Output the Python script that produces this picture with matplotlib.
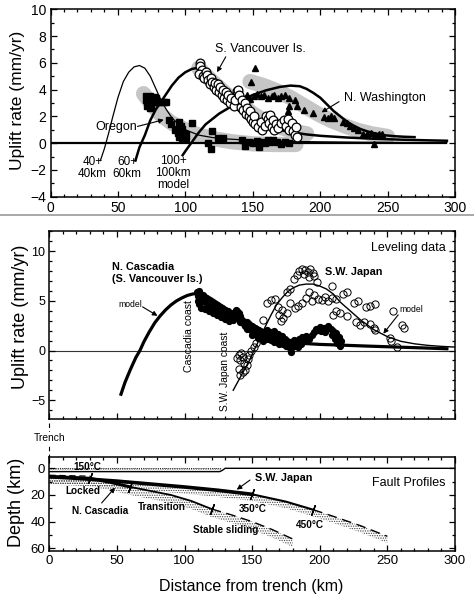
import matplotlib
matplotlib.use('Agg')
import matplotlib.pyplot as plt
from matplotlib.ticker import MultipleLocator
from matplotlib.lines import Line2D

plt.rcParams['font.family'] = ['Liberation Sans', 'DejaVu Sans']
plt.rcParams['hatch.linewidth'] = 0.6

# ================= Panel 1: uplift-rate data and models =================
m40_x = [37, 40, 43, 46, 50, 54, 58, 62, 66, 70, 74, 78, 82, 86, 90, 95, 100, 110, 120, 130, 140, 160, 180, 200, 230, 260, 294]
m40_y = [-1.3, -0.4, 0.7, 1.9, 3.4, 4.6, 5.3, 5.7, 5.8, 5.6, 5.0, 4.1, 3.2, 2.5, 1.9, 1.4, 1.0, 0.6, 0.42, 0.32, 0.26, 0.18, 0.13, 0.1, 0.07, 0.05, 0.03]

m60_x = [63, 66, 70, 74, 78, 82, 86, 90, 95, 100, 105, 108, 111, 115, 120, 125, 130, 140, 150, 160, 170, 180, 190, 200, 220, 240, 260, 280, 294]
m60_y = [-1.3, -0.3, 0.6, 1.7, 2.5, 3.1, 3.7, 4.3, 4.9, 5.3, 5.55, 5.6, 5.5, 5.2, 4.6, 4.0, 3.4, 2.4, 1.7, 1.25, 0.98, 0.8, 0.65, 0.55, 0.42, 0.33, 0.26, 0.21, 0.18]

m100_x = [98, 100, 105, 110, 115, 120, 125, 130, 140, 150, 160, 170, 178, 185, 190, 195, 200, 205, 210, 215, 220, 225, 230, 235, 240, 247, 255, 262, 270]
m100_y = [-0.9, -0.6, 0.1, 0.8, 1.4, 1.8, 2.2, 2.5, 3.1, 3.6, 3.95, 4.2, 4.3, 4.25, 4.05, 3.75, 3.4, 2.9, 2.4, 2.0, 1.6, 1.3, 1.05, 0.88, 0.75, 0.6, 0.52, 0.48, 0.45]

oregon_band_x = [69, 75, 82, 90, 100, 110, 120, 135, 150, 165, 182]
oregon_band_y = [3.7, 2.9, 2.1, 1.5, 1.0, 0.6, 0.35, 0.1, -0.05, -0.1, -0.1]
vanc_band_x = [110, 120, 130, 140, 150, 160, 170, 180, 190]
vanc_band_y = [5.6, 4.6, 3.7, 3.0, 2.2, 1.6, 1.2, 0.9, 0.7]
wash_band_x = [148, 158, 168, 178, 188, 198, 208, 218, 228, 238, 250]
wash_band_y = [4.6, 4.3, 3.9, 3.4, 2.8, 2.2, 1.7, 1.3, 0.95, 0.7, 0.5]

oregon_big_x = [72, 75, 77, 73, 97, 99, 96]
oregon_big_y = [3.4, 3.3, 3.25, 2.9, 0.6, 0.55, 0.9]
oregon_x = [74, 80, 82, 84, 86, 88, 89, 92, 95, 97, 105, 117, 119, 120, 124, 128, 142, 144, 147, 150,
            153, 155, 157, 159, 161, 163, 165, 168, 171, 174, 177]
oregon_y = [2.6, 3.1, 3.1, 3.1, 3.1, 1.75, 1.4, 1.0, 1.6, 1.25, 1.5, 0.0, -0.4, 0.9, 0.4, 0.35, 0.2, -0.2, 0.1, 0.0,
            0.15, -0.3, 0.1, 0.0, 0.2, 0.05, 0.25, 0.1, -0.05, 0.1, 0.0]

vanc_x = [111, 111, 112, 110, 113, 115, 114, 116, 117, 118, 119, 120, 121, 122, 123, 124, 125, 126, 127, 128,
          129, 130, 131, 132, 133, 134, 136, 137, 138, 139, 140, 141, 142, 143, 144, 145, 146, 147, 148, 149,
          150, 151, 152, 154, 156, 157, 159, 160, 161, 162, 163, 164, 165, 166, 167, 169, 171, 173, 175, 176,
          177, 179, 180, 181, 182, 183]
vanc_y = [6.0, 5.8, 5.5, 5.2, 5.0, 5.3, 4.9, 5.1, 4.7, 4.4, 4.9, 4.6, 4.2, 4.5, 4.0, 4.4, 3.8, 4.2, 3.6, 4.0,
          3.4, 3.8, 3.2, 3.6, 3.0, 3.4, 2.8, 3.2, 3.9, 4.0, 3.6, 2.7, 3.2, 2.5, 3.0, 2.2, 2.6, 2.0, 2.4, 1.8,
          1.6, 2.0, 1.4, 1.2, 1.6, 1.0, 1.3, 2.0, 1.8, 1.5, 2.1, 1.2, 1.7, 1.0, 1.4, 1.1, 1.5, 1.7, 1.3, 1.8,
          1.0, 1.5, 0.9, 0.6, 1.2, 0.45]

wash_x = [152, 149, 144, 146, 148, 151, 153, 156, 158, 161, 164, 166, 169, 171, 174, 177, 177, 176, 181, 183,
          188, 195, 203, 206, 208, 210, 217, 220, 222, 225, 228, 232, 235, 238, 241, 244, 246, 240]
wash_y = [5.6, 4.6, 3.4, 3.6, 3.3, 3.5, 3.7, 3.5, 3.6, 3.4, 3.5, 3.6, 3.4, 3.5, 3.6, 3.4, 2.8, 2.4, 3.2, 2.8,
          2.5, 2.25, 1.95, 1.9, 2.0, 1.9, 1.6, 1.5, 1.3, 1.1, 1.0, 0.7, 0.65, 0.75, 0.6, 0.7, 0.65, -0.1]

# ================= Panel 2: leveling data =================
casc_model_x = [53, 56, 60, 64, 67, 70, 74, 78, 82, 86, 90, 94, 98, 102, 106, 110, 115, 120, 130, 140, 150, 160,
                170, 175, 180, 190, 200, 215, 235, 255, 275, 294]
casc_model_y = [-4.4, -3.2, -1.9, -0.7, 0.0, 0.9, 1.9, 2.8, 3.5, 4.1, 4.6, 5.0, 5.3, 5.55, 5.7, 5.75, 5.6, 5.2,
                4.3, 3.4, 2.6, 1.9, 1.35, 1.0, 0.85, 0.7, 0.62, 0.55, 0.45, 0.36, 0.27, 0.18]

japan_model_x = [136, 140, 144, 148, 152, 156, 160, 164, 168, 172, 176, 180, 185, 190, 195, 200, 205, 210, 215,
                 220, 225, 230, 235, 240, 250, 260, 270, 280, 290, 300]
japan_model_y = [-4.0, -3.0, -2.0, -1.0, 0.2, 1.3, 2.5, 3.6, 4.6, 5.3, 5.9, 6.3, 6.6, 6.7, 6.7, 6.5, 6.2, 5.7,
                 4.9, 4.3, 3.7, 3.1, 2.6, 2.1, 1.4, 0.93, 0.68, 0.52, 0.42, 0.35]

casc_level_pts = [
    (109, 5.9), (110, 5.5), (111, 6.0), (112, 5.4), (110, 5.0), (111, 4.7), (113, 5.2), (114, 5.6), (115, 4.9),
    (116, 5.3), (117, 4.6), (118, 5.0), (119, 4.5), (120, 4.9), (121, 4.3), (122, 4.7), (123, 4.2), (124, 4.6),
    (125, 4.0), (126, 4.4), (127, 3.9), (128, 4.3), (129, 3.7), (130, 4.1), (131, 3.6), (132, 4.0), (133, 3.4),
    (134, 3.8), (135, 3.3), (136, 3.6), (137, 3.9), (138, 4.1), (139, 4.0), (140, 3.8), (141, 3.5), (142, 3.2),
    (143, 3.0), (141, 2.9), (144, 2.7), (145, 2.5), (146, 2.9), (147, 2.3), (148, 2.7), (149, 2.1), (150, 2.5),
    (151, 1.9), (152, 2.3), (153, 1.7), (154, 2.1), (155, 1.5), (156, 1.9), (157, 1.3), (158, 1.7), (159, 1.2),
    (160, 1.8), (161, 2.1), (162, 1.5), (163, 1.9), (164, 1.1), (165, 1.6), (166, 2.0), (167, 1.3), (168, 1.0),
    (169, 1.7), (170, 1.2), (171, 0.9), (172, 1.5), (173, 0.7), (174, 1.2), (175, 0.5), (176, 1.0), (177, 0.4),
    (178, 0.9), (179, 0.3), (180, 0.7), (181, 1.1), (182, 0.5), (183, 0.9), (184, 0.4), (185, 1.2), (186, 0.7),
    (187, 1.4), (188, 1.0), (189, 1.3), (190, 1.5), (192, 1.2), (194, 1.6), (196, 1.9), (197, 2.2), (199, 2.1),
    (200, 2.4), (201, 2.0), (203, 2.3), (204, 1.9), (206, 2.5), (208, 2.2), (209, 1.6), (210, 2.0), (211, 1.2),
    (212, 1.8), (213, 0.8), (214, 1.4), (215, 0.5), (216, 1.0), (179, -0.1),
    (112, 4.3), (115, 4.2), (118, 4.0), (121, 3.8), (124, 3.6), (127, 3.4), (130, 3.2), (133, 3.0), (136, 3.1),
    (139, 3.3), (146, 2.2), (150, 1.6), (154, 1.3), (158, 1.0), (162, 1.2), (166, 0.9), (170, 0.7)]

japan_level_pts = [
    (139, -0.8), (140, -0.4), (141, -1.0), (142, -0.2), (143, -0.7), (144, -1.3), (140, -1.9), (141, -2.5),
    (143, -2.2), (145, -2.0), (146, -1.5), (147, -0.9), (148, -0.4), (149, 0.0), (151, 0.4), (153, 0.8),
    (158, 3.1), (161, 4.8), (164, 5.1), (167, 5.2), (169, 4.4), (170, 3.6), (171, 3.0), (172, 4.1), (173, 3.3),
    (175.6, 3.8), (176, 5.9), (178, 6.2), (178, 4.8), (182, 4.3), (184, 4.5),
    (181, 7.2), (183, 7.6), (185, 8.0), (187, 8.2), (189, 8.1), (191, 7.9), (193, 8.2), (195, 7.8), (192, 7.4),
    (196, 7.5), (188, 7.7),
    (187, 4.8), (190, 5.3), (192, 5.9), (194, 5.0), (196, 5.6), (198, 6.9), (199, 5.2), (202, 5.1), (204, 5.4),
    (206, 5.0), (209, 6.5), (209, 5.3), (212, 5.2), (212, 4.0), (210, 3.6), (215, 3.8), (217, 5.7), (220, 5.9),
    (220, 3.5), (225, 4.8), (228, 5.0), (227, 2.9), (230, 2.6), (233, 2.9), (234, 4.4), (237, 4.5), (237, 2.7),
    (240, 2.3), (241, 2.1), (241, 4.7), (252, 1.3), (253, 1.0), (254, 4.0), (257, 0.4), (261, 2.6), (262, 2.3)]

# ================= Panel 3: fault profiles =================
surface_x = [0, 126, 128, 130, 300]
surface_d = [2.5, 2.5, 1.5, 0.0, 0.0]
warm_zone_x = [0, 127]

japan_fault_x = [0, 25, 50, 75, 100, 125, 150, 175, 195, 210, 230, 250]
japan_fault_d = [6.3, 7.8, 9.6, 11.8, 14.0, 16.5, 19.5, 25, 31, 36, 43, 51]
casc_fault_x = [0, 15, 30, 45, 60, 75, 90, 105, 120, 135, 150, 165, 180]
casc_fault_d = [6.3, 6.8, 7.5, 10.5, 14.0, 17.0, 20.0, 24.5, 30.5, 35, 40, 46, 53]
upper_dash_x = [0, 30]
upper_dash_d = [5.2, 5.9]

casc_tick_x = [30, 60, 120]
casc_tick_d = [7.5, 14.0, 30.5]
japan_tick_x = [150, 195]
japan_tick_d = [19.5, 31]

# ================= Figure =================
W, H = 474, 595
fig = plt.figure(figsize=(W / 100, H / 100), dpi=100)


def box(l, t, r, b):
    return [l / W, 1 - b / H, (r - l) / W, (b - t) / H]


def style(ax, fs):
    ax.tick_params(which='both', direction='in', top=True, right=True, labelsize=fs, width=0.9)
    ax.tick_params(which='major', length=4.5, pad=3)
    ax.tick_params(which='minor', length=2.5)
    for s in ax.spines.values():
        s.set_linewidth(1.1)


arrow_kw = dict(arrowstyle='-|>', lw=0.8, color='k', mutation_scale=7, shrinkA=0, shrinkB=0)
stipple = '#444444'

# ---------- Panel 1 ----------
ax1 = fig.add_axes(box(50.5, 9.3, 455, 196.7))
ax1.set_xlim(0, 300)
ax1.set_ylim(-4, 10)
ax1.xaxis.set_major_locator(MultipleLocator(50))
ax1.xaxis.set_minor_locator(MultipleLocator(10))
ax1.yaxis.set_major_locator(MultipleLocator(2))
ax1.yaxis.set_minor_locator(MultipleLocator(1))
style(ax1, 10)

band_kw = dict(color='#c6c6c6', lw=11, solid_capstyle='round', zorder=1)
ax1.plot(oregon_band_x, oregon_band_y, **band_kw)
ax1.plot(vanc_band_x, vanc_band_y, **band_kw)
ax1.plot(wash_band_x, wash_band_y, **band_kw)
ax1.hlines(0, 0, 294, color='k', lw=1.6, zorder=2)

ax1.plot(oregon_x, oregon_y, 's', color='k', ms=4, zorder=3)
ax1.plot(oregon_big_x, oregon_big_y, 's', color='k', ms=6.5, zorder=3)
ax1.plot(wash_x, wash_y, '^', color='k', ms=4.8, zorder=3)

ax1.plot(m40_x, m40_y, color='k', lw=0.9, zorder=4)
ax1.plot(m60_x, m60_y, color='k', lw=1.8, zorder=4)
ax1.plot(m100_x, m100_y, color='k', lw=1.8, zorder=4)

ax1.plot(vanc_x, vanc_y, 'o', mfc='white', mec='k', mew=0.9, ms=6.3, zorder=5)

ax1.text(122, 7.0, 'S. Vancouver Is.', fontsize=9, va='center', ha='left')
ax1.annotate('', xy=(123.5, 5.3), xytext=(130, 6.45), arrowprops=arrow_kw, zorder=6)
ax1.text(218, 3.4, 'N. Washington', fontsize=9, va='center', ha='left')
ax1.annotate('', xy=(201, 2.3), xytext=(214, 3.1), arrowprops=arrow_kw, zorder=6)
ax1.text(49, 1.2, 'Oregon', fontsize=9, va='center', ha='center')
ax1.annotate('', xy=(84, 1.75), xytext=(64.5, 1.25), arrowprops=arrow_kw, zorder=6)
ax1.text(31, -1.85, '40+\n40km', fontsize=8.5, ha='center', va='center', linespacing=1.0)
ax1.text(57, -1.85, '60+\n60km', fontsize=8.5, ha='center', va='center', linespacing=1.0)
ax1.text(91, -2.2, '100+\n100km\nmodel', fontsize=8.5, ha='center', va='center', linespacing=1.0)

fig.text(18 / W, 1 - 100 / H, 'Uplift rate (mm/yr)', rotation=90, fontsize=12.5, ha='center', va='center')

# separator line (page edge in the original)
fig.add_artist(Line2D([0, 1], [1 - 215 / H, 1 - 215 / H], color='#9a9a9a', lw=1.2))

# ---------- Panel 2 ----------
ax2 = fig.add_axes(box(49.3, 231, 455, 419))
ax2.set_xlim(0, 300)
ax2.set_ylim(-6.9, 12.05)
ax2.xaxis.set_major_locator(MultipleLocator(50))
ax2.xaxis.set_minor_locator(MultipleLocator(10))
ax2.yaxis.set_major_locator(MultipleLocator(5))
ax2.yaxis.set_minor_locator(MultipleLocator(1))
style(ax2, 9)
ax2.tick_params(labelbottom=False)

ax2.axhline(0, color='#333333', lw=0.8, zorder=1)
ax2.plot(casc_model_x, casc_model_y, color='k', lw=2.3, zorder=2)
ax2.plot(japan_model_x, japan_model_y, color='k', lw=1.0, zorder=2)
cx, cy = zip(*casc_level_pts)
ax2.plot(cx, cy, 'o', color='k', ms=4.2, zorder=3)
jx, jy = zip(*japan_level_pts)
ax2.plot(jx, jy, 'o', mfc='none', mec='k', mew=0.7, ms=5.2, zorder=3)

ax2.text(293, 10.3, 'Leveling data', fontsize=9, ha='right', va='center')
ax2.text(46, 7.8, 'N. Cascadia\n(S. Vancouver Is.)', fontsize=7.8, fontweight='bold', ha='left', va='center',
         linespacing=1.25)
ax2.text(204, 7.9, 'S.W. Japan', fontsize=7.8, fontweight='bold', ha='left', va='center')
ax2.text(51, 4.6, 'model', fontsize=6.2, ha='left', va='center')
ax2.annotate('', xy=(80, 3.5), xytext=(69, 4.4), arrowprops=arrow_kw)
ax2.text(259, 4.15, 'model', fontsize=6.2, ha='left', va='center')
ax2.annotate('', xy=(247, 1.7), xytext=(258, 3.6), arrowprops=arrow_kw)
ax2.text(103, 1.5, 'Cascadia coast', rotation=90, fontsize=7.6, ha='center', va='center')
ax2.text(130, -2.1, 'S.W. Japan coast', rotation=90, fontsize=7.4, ha='center', va='center')

fig.text(20.8 / W, 1 - 317 / H, 'Uplift rate (mm/yr)', rotation=90, fontsize=13, ha='center', va='center')

# ---------- Panel 3 ----------
ax3 = fig.add_axes(box(49.3, 456.7, 455, 551))
ax3.set_xlim(0, 300)
ax3.set_ylim(62, -8.7)
ax3.xaxis.set_major_locator(MultipleLocator(50))
ax3.xaxis.set_minor_locator(MultipleLocator(10))
ax3.yaxis.set_major_locator(MultipleLocator(20))
ax3.yaxis.set_minor_locator(MultipleLocator(10))
style(ax3, 9.5)

ax3.fill_between(warm_zone_x, [0, 0], [2.5, 2.5], facecolor='none', edgecolor=stipple, hatch='.......',
                 lw=0, zorder=1)
ax3.plot(warm_zone_x, [0, 0], color='k', lw=0.6, ls=(0, (1, 1.5)), zorder=2)
ax3.plot(surface_x, surface_d, color='k', lw=1.0, zorder=3)

ax3.fill_between(japan_fault_x, japan_fault_d, [d + 5 for d in japan_fault_d], facecolor='none',
                 edgecolor=stipple, hatch='.......', lw=0, zorder=1)
ax3.fill_between(casc_fault_x, casc_fault_d, [d + 6 for d in casc_fault_d], facecolor='none',
                 edgecolor=stipple, hatch='.......', lw=0, zorder=1)

ax3.plot(upper_dash_x, upper_dash_d, color='k', lw=0.9, ls=(0, (5, 3)), zorder=3)
ax3.plot(japan_fault_x[:7], japan_fault_d[:7], color='k', lw=2.6, zorder=3)
ax3.plot(japan_fault_x[6:9], japan_fault_d[6:9], color='k', lw=1.5, zorder=3)
ax3.plot(japan_fault_x[8:], japan_fault_d[8:], color='k', lw=1.0, ls=(0, (7, 4)), zorder=3)
ax3.plot(casc_fault_x[:5], casc_fault_d[:5], color='k', lw=2.2, zorder=3)
ax3.plot(casc_fault_x[4:9], casc_fault_d[4:9], color='k', lw=1.3, zorder=3)
ax3.plot(casc_fault_x[8:], casc_fault_d[8:], color='k', lw=1.0, ls=(0, (7, 4)), zorder=3)
ax3.plot(casc_tick_x, casc_tick_d, ls='none', marker=(2, 2, -20), ms=8, mew=1.0, color='k', zorder=4)
ax3.plot(japan_tick_x, japan_tick_d, ls='none', marker=(2, 2, -20), ms=8, mew=1.0, color='k', zorder=4)

bold7 = dict(fontsize=7.2, fontweight='bold', va='center', ha='left')
ax3.text(17.5, -0.8, '150°C', zorder=5, **bold7)
ax3.text(11.6, 16.8, 'Locked', **bold7)
ax3.text(16.5, 32, 'N. Cascadia', **bold7)
ax3.annotate('', xy=(48.6, 14.5), xytext=(38.7, 26), arrowprops=arrow_kw)
ax3.text(65.5, 29, 'Transition', **bold7)
ax3.text(106, 46.3, 'Stable sliding', **bold7)
ax3.text(140, 30.5, '350°C', **bold7)
ax3.text(182, 42.5, '450°C', **bold7)
ax3.text(152, 7.5, 'S.W. Japan', fontsize=7.8, fontweight='bold', va='center', ha='left')
ax3.annotate('', xy=(138.6, 16), xytext=(148.4, 8.8), arrowprops=arrow_kw)
ax3.text(293, 11, 'Fault Profiles', fontsize=9, ha='right', va='center')

# trench marker above the profile panel
ax3.plot([0, 0], [-34, -8.7], color='k', lw=0.8, ls=(0, (4, 3)), clip_on=False)
ax3.text(0, -22.7, 'Trench', fontsize=7.4, ha='center', va='center', clip_on=False,
         bbox=dict(facecolor='white', edgecolor='none', pad=0.5))

fig.text(17 / W, 1 - 502 / H, 'Depth (km)', rotation=90, fontsize=13, ha='center', va='center')
fig.text(251 / W, 1 - 586 / H, 'Distance from trench (km)', fontsize=11.5, ha='center', va='center')

fig.savefig('out.png', dpi=100)
